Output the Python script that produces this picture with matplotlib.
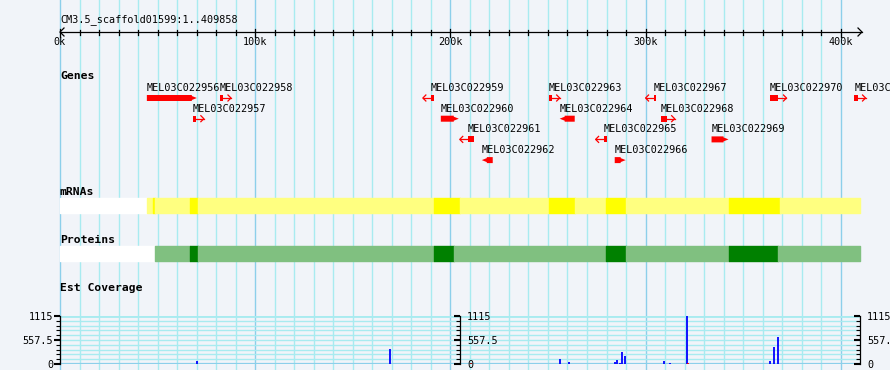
import matplotlib.pyplot as plt
from matplotlib.patches import Polygon
import numpy as np

#%% data (positions in kb)
seq_len = 409.858
title = "CM3.5_scaffold01599:1..409858"

gene_names = ["MEL03C022956", "MEL03C022957", "MEL03C022958", "MEL03C022959",
              "MEL03C022960", "MEL03C022961", "MEL03C022962", "MEL03C022963",
              "MEL03C022964", "MEL03C022965", "MEL03C022966", "MEL03C022967",
              "MEL03C022968", "MEL03C022969", "MEL03C022970", "MEL03C022971"]
gene_start = [44.5, 68.1, 81.9, 190.0, 195.1, 208.9, 216.1, 250.4,
              256.0, 278.5, 284.2, 304.1, 307.7, 333.8, 363.5, 407.0]
gene_end = [70.1, 69.6, 83.5, 191.5, 204.3, 212.0, 221.7, 251.9,
            263.7, 280.1, 289.8, 305.6, 310.8, 342.5, 368.1, 408.6]
gene_strand = [1, 1, 1, -1, 1, -1, -1, 1, -1, -1, 1, -1, 1, 1, 1, 1]
gene_row = [0, 1, 0, 0, 1, 2, 3, 0, 1, 2, 3, 0, 1, 2, 0, 0]

mrna_start = [44.5, 47.6, 48.6, 66.6, 70.7, 191.5, 204.8, 250.4, 263.7, 279.6, 289.8, 342.5, 368.7]
mrna_end = [47.6, 48.6, 66.6, 70.7, 191.5, 204.8, 250.4, 263.7, 279.6, 289.8, 342.5, 368.7, 409.858]
mrna_dark = [0, 1, 0, 1, 0, 1, 0, 1, 0, 1, 0, 1, 0]

prot_start = [48.6, 66.6, 70.7, 191.5, 201.7, 279.6, 289.8, 342.5, 367.6]
prot_end = [66.6, 70.7, 191.5, 201.7, 279.6, 289.8, 342.5, 367.6, 409.858]
prot_dark = [0, 1, 0, 1, 0, 1, 0, 1, 0]

est_pos = [70.3, 169.1, 256.4, 260.8, 284.5, 285.5, 286.9, 287.9, 289.4,
           309.4, 312.5, 321.2, 363.7, 365.7, 367.8]
est_val = [60, 355, 110, 40, 40, 85, 25, 275, 185, 70, 30, 1115, 70, 390, 620]
est_red_pos = [210.8, 321.5]
est_red_val = [14, 14]
est_max = 1115

#%% style
bg = '#F1F4F9'
minor_c = '#A8EBF0'
major_c = '#8CCFEA'
mono = 'DejaVu Sans Mono'
s = 800 / seq_len          # px per kb
px = 1 / s                 # kb per px

fig = plt.figure(figsize=(8.9, 3.7), dpi=100, facecolor=bg)
ax = fig.add_axes([0, 0, 1, 1])
ax.set_xlim(-60 * px, 830 * px)
ax.set_ylim(370, 0)
ax.axis('off')

# grid
for k in range(0, 410, 10):
    ax.axvline(k, color=major_c if k % 100 == 0 else minor_c, lw=1.0, zorder=0)

# ruler
ax.text(0, 20, title, family=mono, fontsize=7.3, va='center', ha='left')
ax.plot([0, seq_len + 2 * px], [32, 32], color='black', lw=0.9)
ax.plot([4 * px, 0, 4 * px], [28, 32, 36], color='black', lw=0.9)
ax.plot([seq_len - 2 * px, seq_len + 2 * px, seq_len - 2 * px], [28, 32, 36], color='black', lw=0.9)
for k in range(0, 410, 10):
    if k % 100 == 0:
        ax.plot([k, k], [28.5, 36.5], color='black', lw=0.9)
        ax.text(k, 42, f"{k}k", family=mono, fontsize=7.3, va='center', ha='center')
    else:
        ax.plot([k, k], [29.5, 34.5], color='black', lw=0.9)

# track labels
for lab, yy in [("Genes", 76), ("mRNAs", 192), ("Proteins", 240), ("Est Coverage", 288)]:
    ax.text(0, yy, lab, family=mono, fontsize=8.2, fontweight='bold', va='center', ha='left')

# genes
red = '#FF0000'
for name, x0, x1, st, r in zip(gene_names, gene_start, gene_end, gene_strand, gene_row):
    y = 98 + 20.7 * r
    w = (x1 - x0) * s
    if w >= 10:
        hk = 5 * px
        if st > 0:
            pts = [(x0, y - 3), (x1 - hk, y - 3), (x1 - hk, y - 2), (x1, y), (x1 - hk, y + 2), (x1 - hk, y + 3), (x0, y + 3)]
        else:
            pts = [(x1, y - 3), (x0 + hk, y - 3), (x0 + hk, y - 2), (x0, y), (x0 + hk, y + 2), (x0 + hk, y + 3), (x1, y + 3)]
        ax.add_patch(Polygon(pts, closed=True, color=red, lw=0, zorder=3))
    else:
        ax.add_patch(Polygon([(x0, y - 3), (x1, y - 3), (x1, y + 3), (x0, y + 3)], closed=True, color=red, lw=0, zorder=3))
        if st > 0:
            tip = x1 + 8 * px
            ax.plot([x1, tip], [y, y], color=red, lw=0.9, zorder=3)
            ax.plot([tip - 3 * px, tip, tip - 3 * px], [y - 3, y, y + 3], color=red, lw=0.9, zorder=3)
        else:
            tip = x0 - 8 * px
            ax.plot([tip, x0], [y, y], color=red, lw=0.9, zorder=3)
            ax.plot([tip + 3 * px, tip, tip + 3 * px], [y - 3, y, y + 3], color=red, lw=0.9, zorder=3)
    ax.text(x0, y - 10, name, family=mono, fontsize=7.3, va='center', ha='left', zorder=4)

# mRNAs and proteins
ax.broken_barh([(0, mrna_start[0])], (198, 15), color='white', zorder=2)
ax.broken_barh([(a, b - a) for a, b in zip(mrna_start, mrna_end)], (198, 15),
               color=['#FFFF00' if d else '#FFFF80' for d in mrna_dark], zorder=2)
ax.broken_barh([(0, prot_start[0])], (246, 15), color='white', zorder=2)
ax.broken_barh([(a, b - a) for a, b in zip(prot_start, prot_end)], (246, 15),
               color=['#008000' if d else '#80C080' for d in prot_dark], zorder=2)

# est coverage
bottom = 6 / 370
height = 48 / 370
cov = fig.add_axes([60 / 890, bottom, 800 / 890, height])
cov.set_facecolor('none')
cov.set_xlim(0, seq_len)
cov.set_ylim(0, est_max)
for sp in ['top', 'right', 'bottom']:
    cov.spines[sp].set_visible(False)
cov.set_xticks([])
for lv in np.arange(0, est_max + 1, est_max / 10):
    cov.axhline(lv, color=minor_c, lw=1.0, zorder=0)
cov.axhline(est_max, color=minor_c, lw=2.0, zorder=0)
cov.axhline(0, color=major_c, lw=1.6, zorder=0)
cov.vlines(est_pos, 0, est_val, color='#0000FF', lw=1.3, zorder=3)
cov.vlines(est_red_pos, 0, est_red_val, color=red, lw=1.3, zorder=3)

def cov_axis(a, labels_right):
    a.set_ylim(0, est_max)
    a.set_yticks([0, est_max / 2, est_max])
    a.set_yticklabels(['0', '557.5', '1115'], family=mono, fontsize=7.3)
    a.set_yticks(np.arange(0, est_max + 1, est_max / 10), minor=True)
    a.tick_params(axis='y', which='major', length=4, width=1.5, direction='out', pad=1,
                  left=True, right=False, labelleft=not labels_right, labelright=labels_right)
    a.tick_params(axis='y', which='minor', length=3, width=0.8, direction='out', left=True, right=False)
    a.spines['left'].set_linewidth(0.9)

cov_axis(cov, False)
for xp in [460, 860]:
    m = fig.add_axes([xp / 890, bottom, 1e-4, height])
    m.set_facecolor('none')
    for sp in ['top', 'right', 'bottom']:
        m.spines[sp].set_visible(False)
    m.set_xticks([])
    cov_axis(m, True)

plt.savefig('out.png', dpi=100, facecolor=bg)
